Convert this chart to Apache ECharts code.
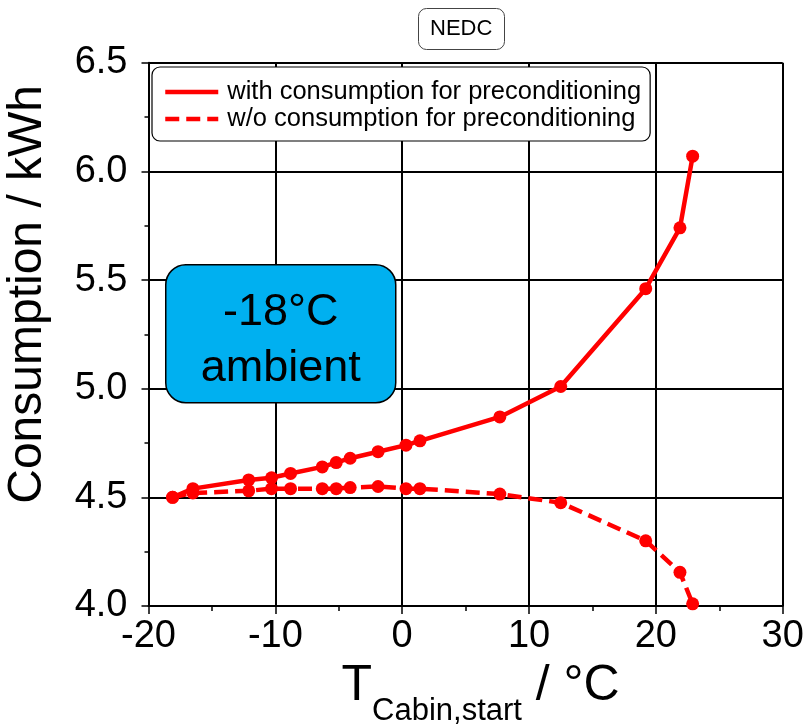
<!DOCTYPE html>
<html><head><meta charset="utf-8">
<script src="https://cdn.jsdelivr.net/npm/echarts@6/dist/echarts.min.js"></script>
<style>html,body{margin:0;padding:0;background:#fff}#c{width:811px;height:726px}</style>
</head><body><div id="c"></div>
<script>
// Data
const tCabinStart = [-18.1, -16.5, -12.1, -10.3, -8.8, -6.3, -5.2, -4.1, -1.9, 0.3, 1.4, 7.7, 12.5, 19.2, 21.9, 22.9];
const consumptionWith = [4.50, 4.54, 4.58, 4.59, 4.61, 4.64, 4.66, 4.68, 4.71, 4.74, 4.76, 4.87, 5.01, 5.46, 5.74, 6.07];
const consumptionWithout = [4.50, 4.52, 4.53, 4.54, 4.54, 4.54, 4.54, 4.545, 4.55, 4.54, 4.54, 4.515, 4.475, 4.30, 4.155, 4.01];
const seriesNames = ['with consumption for preconditioning', 'w/o consumption for preconditioning'];
const xTicks = { min: -20, max: 30, interval: 10 };
const yTicks = { min: 4.0, max: 6.5, interval: 0.5 };
const annotationLines = ['-18°C', 'ambient'];
const titleText = 'NEDC';

const FONT = '"Liberation Sans", Arial, sans-serif';
const zip = (xs, ys) => xs.map((x, i) => [x, ys[i]]);

const chart = echarts.init(document.getElementById('c'), null, { renderer: 'canvas' });
chart.setOption({
  animation: false,
  textStyle: { fontFamily: FONT },
  title: {
    text: titleText, left: 418, top: 8, padding: [10, 12],
    borderColor: '#444', borderWidth: 1, borderRadius: 8,
    textStyle: { fontSize: 22, fontWeight: 'normal', color: '#000', fontFamily: FONT }
  },
  grid: { left: 148.5, right: 28.3, top: 62.7, bottom: 120, containLabel: false, outerBoundsMode: 'none' },
  legend: {
    orient: 'vertical', left: 152, top: 67, padding: [12, 9, 9, 11],
    itemWidth: 53, itemHeight: 14, itemGap: 1,
    backgroundColor: '#fff', borderColor: '#000', borderWidth: 1.2, borderRadius: 8,
    textStyle: { fontSize: 25.5, color: '#000', fontFamily: FONT, padding: [0, 0, 0, 4] },
    itemStyle: { opacity: 0 },
    lineStyle: { width: 4.5 },
    data: seriesNames
  },
  xAxis: {
    type: 'value', min: xTicks.min, max: xTicks.max, interval: xTicks.interval,
    axisLine: { show: true, onZero: false, lineStyle: { color: '#000', width: 2 } },
    axisTick: { show: true, length: 8, lineStyle: { color: '#000', width: 1.5 } },
    minorTick: { show: true, splitNumber: 2, length: 5, lineStyle: { color: '#000', width: 1.5 } },
    splitLine: { show: true, lineStyle: { color: '#000', width: 2 } },
    axisLabel: { fontSize: 38, color: '#000', margin: 12, fontFamily: FONT },
    name: '{t|T}{s|Cabin,start}{t| / °C}', nameLocation: 'middle', nameGap: 22,
    nameTextStyle: {
      padding: [0, 0, 0, 30],
      rich: {
        t: { fontSize: 50, lineHeight: 54, verticalAlign: 'top', color: '#000', fontFamily: FONT },
        s: { fontSize: 31, lineHeight: 31, padding: [35, 0, 0, 0], verticalAlign: 'top', color: '#000', fontFamily: FONT }
      }
    }
  },
  yAxis: {
    type: 'value', min: yTicks.min, max: yTicks.max, interval: yTicks.interval,
    axisLine: { show: true, onZero: false, lineStyle: { color: '#000', width: 2 } },
    axisTick: { show: true, length: 7, lineStyle: { color: '#000', width: 1.5 } },
    minorTick: { show: true, splitNumber: 2, length: 4, lineStyle: { color: '#000', width: 1.5 } },
    splitLine: { show: true, lineStyle: { color: '#000', width: 2 } },
    axisLabel: { fontSize: 38, color: '#000', margin: 21, fontFamily: FONT, formatter: v => v.toFixed(1) },
    name: 'Consumption / kWh', nameLocation: 'middle', nameGap: 97,
    nameTextStyle: { fontSize: 48, color: '#000', fontFamily: FONT, padding: [0, 0, 0, 80] }
  },
  graphic: [{
    type: 'group', left: 165, top: 264, z: 100,
    children: [
      { type: 'rect', z: 100, shape: { x: 0, y: 0, width: 230, height: 138, r: 20 }, style: { fill: '#00B0F0', stroke: '#000', lineWidth: 1.5 } },
      { type: 'text', z: 101, x: 115, y: 48, style: { text: annotationLines[0], font: '45px ' + FONT, fill: '#000', align: 'center', verticalAlign: 'middle' } },
      { type: 'text', z: 101, x: 115, y: 104, style: { text: annotationLines[1], font: '45px ' + FONT, fill: '#000', align: 'center', verticalAlign: 'middle' } }
    ]
  }],
  series: [
    {
      type: 'line', name: seriesNames[0], data: zip(tCabinStart, consumptionWith),
      symbol: 'circle', symbolSize: 13, showSymbol: true, z: 3,
      lineStyle: { color: '#ff0000', width: 4.5 }, itemStyle: { color: '#ff0000' },
      emphasis: { disabled: true }
    },
    {
      type: 'line', name: seriesNames[1], data: zip(tCabinStart, consumptionWithout),
      symbol: 'circle', symbolSize: 13, showSymbol: true, z: 3,
      lineStyle: { color: '#ff0000', width: 4.5, type: [14, 7] }, itemStyle: { color: '#ff0000' },
      emphasis: { disabled: true }
    }
  ]
});
</script>
</body></html>
